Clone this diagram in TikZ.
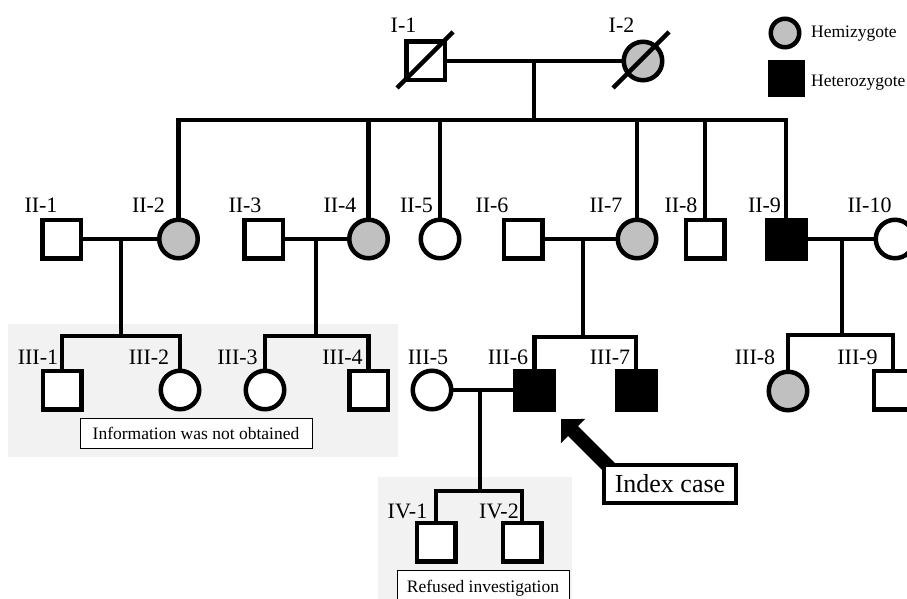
\documentclass[tikz,border=0pt]{standalone}
\usepackage{fontspec}
\setmainfont{Liberation Serif}
\usetikzlibrary{arrows.meta,backgrounds}
\definecolor{hemi}{HTML}{C0C0C0}
\definecolor{panel}{HTML}{F2F2F2}
\tikzset{
  ped/.style={line width=4.5pt, draw=black, fill=white, inner sep=0pt, minimum size=38.5pt},
  male/.style={ped, rectangle},
  female/.style={ped, circle},
  hemiz/.style={fill=hemi},
  hetz/.style={fill=black},
  lbl/.style={font=\fontsize{22pt}{22pt}\selectfont, anchor=base, inner sep=0pt},
  legtext/.style={font=\fontsize{17.5pt}{17.5pt}\selectfont, anchor=base west, inner sep=0pt},
  link/.style={line width=4.5pt, line cap=rect},
  notebox/.style={draw=black, line width=1pt, fill=white, inner sep=0pt, font=\fontsize{17.5pt}{17.5pt}\selectfont},
  deceased/.style={line width=4.5pt},
}
\begin{document}
\begin{tikzpicture}[x=1pt,y=-1pt]
\useasboundingbox (0,0) rectangle (907,599);
\clip (0,0) rectangle (907,599);

% ---------- Generation I ----------
\node[male] (I1) at (425.5,61) {};
\node[female,hemiz] (I2) at (643,61) {};
\draw[deceased] ([shift={(-28.5,27)}]I1.center) -- ([shift={(27.5,-29)}]I1.center);
\draw[deceased] ([shift={(-30,27)}]I2.center) -- ([shift={(26,-29)}]I2.center);
\node[lbl] (lI1) at (403.5,33) {I-1};
\node[lbl] (lI2) at (621.5,33) {I-2};

% ---------- Legend ----------
\node[female,hemiz,minimum size=28.5pt] (legH) at (785,33) {};
\node[rectangle,fill=black,inner sep=0pt,minimum size=37pt] (legK) at (786.5,79) {};
\node[legtext] (legHt) at (811,38) {Hemizygote};
\node[legtext] (legKt) at (811,87) {Heterozygote};

% ---------- Generation II ----------
\node[male] (II1) at (61.5,239) {};
\node[female,hemiz] (II2) at (178.5,239) {};
\node[male] (II3) at (263.5,239) {};
\node[female,hemiz] (II4) at (368.5,239) {};
\node[female] (II5) at (440,239) {};
\node[male] (II6) at (523,239) {};
\node[female,hemiz] (II7) at (637,239) {};
\node[male] (II8) at (705,239) {};
\node[male,hetz] (II9) at (786,239) {};
\node[female] (II10) at (895,239) {};

\node[lbl] (lII1) at (41,212) {II-1};
\node[lbl] (lII2) at (148.5,212) {II-2};
\node[lbl] (lII3) at (245,212) {II-3};
\node[lbl] (lII4) at (340,212) {II-4};
\node[lbl] (lII5) at (416.5,212) {II-5};
\node[lbl] (lII6) at (492,212) {II-6};
\node[lbl] (lII7) at (606,212) {II-7};
\node[lbl] (lII8) at (681,212) {II-8};
\node[lbl] (lII9) at (764.5,212) {II-9};
\node[lbl] (lII10) at (869.5,212) {II-10};

% ---------- Generation III ----------
\node[male] (III1) at (62,390) {};
\node[female] (III2) at (180,390) {};
\node[female] (III3) at (265,390) {};
\node[male] (III4) at (368.5,390) {};
\node[female] (III5) at (432,390) {};
\node[male,hetz] (III6) at (534.5,390) {};
\node[male,hetz] (III7) at (636,390) {};
\node[female,hemiz] (III8) at (788,391) {};
\node[male] (III9) at (893,390) {};

\node[lbl] (lIII1) at (38,364) {III-1};
\node[lbl] (lIII2) at (149,364) {III-2};
\node[lbl] (lIII3) at (237.5,364) {III-3};
\node[lbl] (lIII4) at (342.5,364) {III-4};
\node[lbl] (lIII5) at (428,364) {III-5};
\node[lbl] (lIII6) at (508,364) {III-6};
\node[lbl] (lIII7) at (610,364) {III-7};
\node[lbl] (lIII8) at (755,364) {III-8};
\node[lbl] (lIII9) at (857.5,364) {III-9};

% ---------- Generation IV ----------
\node[male] (IV1) at (436,542) {};
\node[male] (IV2) at (522,542) {};
\node[lbl] (lIV1) at (407.5,518) {IV-1};
\node[lbl] (lIV2) at (499,518) {IV-2};

% ---------- Connectors ----------
\coordinate (mI) at (534,61);
\coordinate (sI) at (534,120);
\draw[link] (I1) -- (I2);
\draw[link] (mI) -- (sI);
\draw[link] (II2) |- (sI) -| (II9);
\foreach \n in {II4,II5,II7,II8} \draw[link] (\n |- sI) -- (\n);

\coordinate (mA) at (121,239);
\coordinate (sA) at (121,336);
\draw[link] (II1) -- (II2);
\draw[link] (mA) -- (sA);
\draw[link] (III1) |- (sA) -| (III2);

\coordinate (mB) at (316,239);
\coordinate (sB) at (316,336);
\draw[link] (II3) -- (II4);
\draw[link] (mB) -- (sB);
\draw[link] (III3) |- (sB) -| (III4);

\coordinate (mC) at (583,239);
\coordinate (sC) at (583,337);
\draw[link] (II6) -- (II7);
\draw[link] (mC) -- (sC);
\draw[link] (III6) |- (sC) -| (III7);

\coordinate (mD) at (842,239);
\coordinate (sD) at (842,335);
\draw[link] (II9) -- (II10);
\draw[link] (mD) -- (sD);
\draw[link] (III8) |- (sD) -| (III9);

\coordinate (mE) at (480,390);
\coordinate (sE) at (480,491);
\draw[link] (III5) -- (III6);
\draw[link] (mE) -- (sE);
\draw[link] (IV1) |- (sE) -| (IV2);

% ---------- Notes ----------
\node[notebox,minimum width=232pt,minimum height=30pt] (info) at (196,433) {Information was not obtained};
\node[notebox,minimum width=172pt,minimum height=36pt] (refused) at (483,588) {Refused investigation};
\node[draw=black,line width=4pt,fill=white,inner sep=0pt,minimum width=132pt,minimum height=38pt,
      font=\fontsize{26pt}{26pt}\selectfont] (idx) at (670,484) {Index case};
\coordinate (tip) at (561,419);

\begin{scope}[on background layer]
  \fill[panel] (8,324) rectangle (398,457);
  \fill[panel] (378,477) rectangle (572,599);
  \draw[line width=14pt, -{Triangle[length=17pt,width=33pt]}] ([shift={(8,5)}]idx.north west) -- (tip);
\end{scope}
\end{tikzpicture}
\end{document}
